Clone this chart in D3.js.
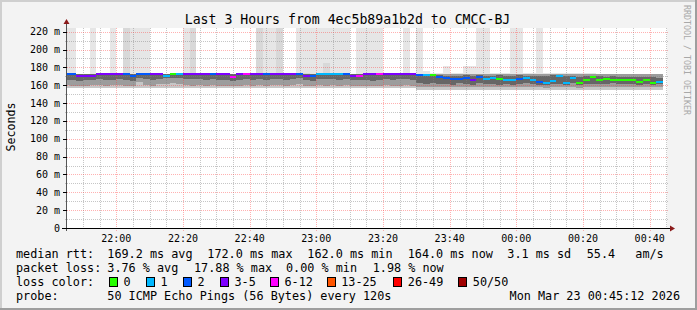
<!DOCTYPE html>
<html><head><meta charset="utf-8">
<script src="https://cdn.jsdelivr.net/npm/d3@7"></script>
<style>
html,body{margin:0;padding:0;background:#f3f3f3}
svg{display:block}
text{font-family:"DejaVu Sans Mono",monospace}
</style>
</head><body>
<svg id="chart" width="697" height="310"></svg>
<script>
// ---------------- data ----------------
const titleText = "Last 3 Hours from 4ec5b89a1b2d to CMCC-BJ";
const yTickValues = [0,20,40,60,80,100,120,140,160,180,200,220];
const xTickLabels = ["22:00","22:20","22:40","23:00","23:20","23:40","00:00","00:20","00:40"];
const lossLabels = ["0","1","2","3-5","6-12","13-25","26-49","50/50"];
const lossColors = ["#26ff00","#00b8ff","#0059ff","#7e00ff","#ff00ff","#ff5500","#ff0000","#a00000"];

// median rtt per 120 s step (ms), 21:44 .. 00:44
const median = [172,172,170,170,170,172,172,172,172,172,
 170,172,172,172,172,170,172,172,172,172,
 172,172,172,172,172,169.5,172,172,172,172,
 172,172,172,172,172,172,170,170,172,172,
 172,172,172,170,170,172,172,172,172,172,
 172,172,172,171,171,171,169,168.3,166.4,167.1,
 168.3,165.3,169,167.5,168,167.1,165.3,165.3,166.4,168.3,
 165.3,163.8,163,164.5,169.8,163,168.3,162,165.3,169,
 166,167.5,165.3,165.3,165.3,165.3,163.8,165.3,163,164];
// loss colour index per step
const lossIdx = [2,2,3,3,3,3,3,3,3,2,
 2,2,2,3,3,1,0,1,3,3,
 3,3,2,3,3,4,3,4,3,3,
 2,3,3,3,3,2,3,2,1,1,
 1,1,2,3,4,3,3,4,3,3,
 3,3,3,2,1,0,2,2,2,2,
 2,3,2,1,1,0,1,1,2,1,
 1,2,1,1,1,1,1,0,0,0,
 0,0,0,0,0,0,0,0,0,1];
// smoke: outer (lightest) band top
const smokeMax = [230,230,172.5,172.5,230,172.5,172.5,230,172.5,230,
 230,230,230,172.5,172.5,172.5,172.5,172.5,230,230,
 172.5,172.5,172.5,172.5,172.5,172.5,172.5,172.5,172.5,230,
 230,230,230,172.5,172.5,230,230,230,230,230,
 230,230,230,172.5,230,230,230,230,172.5,172.5,
 172.5,230,172.5,230,176,174,174,181,174,174,
 182,182,230,230,174,174,174,230,230,173.5,
 173.5,230,173.5,173.5,173.5,173.5,173.5,173.5,173.5,173.5,
 173,173,173,173,173,173,173,173,173,173];
// smoke: second light band top (0 = none)
const smokeUpper = [0,0,0,0,0,0,0,0,0,230,
 0,0,0,0,0,0,0,0,0,230,
 0,0,0,0,0,0,0,0,0,230,
 0,0,230,0,0,0,174,0,0,185,
 0,0,0,0,0,0,0,0,0,0,
 0,0,0,0,0,0,0,0,0,0,
 0,0,0,0,0,0,0,0,0,0,
 0,0,0,0,0,0,0,0,0,0,
 0,0,0,0,0,0,0,0,0,0];
// smoke: mid band top
const smokeHigh = [172,172,172,172,172,172,172,172,172,172,
 172,172,172,172,172,172,172,172,172,172,
 172,172,172,172,172,172,172,172,172,172,
 172,172,172,172,172,172,172,172,172,172,
 172,172,172,172,172,172,172,172,172,172,
 172,172,172,172.5,172.5,172.5,172.5,172.5,172.5,172.5,
 172.5,172.5,172.5,172.5,172.5,172.5,172.5,172.5,172.5,172.5,
 172.5,172.5,172.5,172.5,172.5,172.5,172.5,172.5,172.5,172.5,
 172,172,172,172,172,172,172,172,172,172];
// smoke: dark core top / bottom
const coreHigh = [172,172,172,172,172,172,172,172,172,172,
 172,172,172,172,172,172,172,172,172,172,
 172,172,172,172,172,172,172,172,172,172,
 172,172,172,172,172,172,172,172,172,172,
 172,172,172,172,172,172,172,172,172,172,
 172,172,172,171.5,171,171.5,171,170.5,170,170.5,
 171,170,171,170.5,170,171,170.5,170,171,170.5,
 170,170.5,170,171,170.5,170,170.5,169.5,170,170.5,
 170,169.5,170,169.5,169,169.5,169,169.5,169,168.5];
const coreLow = [165.5,165.5,165,165.5,166,166.5,166,165.5,167,166,
 165,168.5,167,166,167.5,168,168.5,168,167,166.5,
 167,166,167,166,165.5,165,166,167,166,167,
 166,167,167.5,166,167,168,166,165,167,166.5,
 167,166,167,166,165.5,166,165,166,167,166,
 166.5,167,166,162,161.5,162.5,161,161.5,160.5,162,
 161,160.5,162,161,161.5,160.5,161,160.5,161.5,162,
 161,160.5,160,161,161.5,160.5,162,160,161,161.5,
 161,161.5,162,161,161.5,161,160.5,161,160.5,161];
// smoke: mid band bottom and outer band bottom
const smokeLow = [160,159.5,159,159.5,160,160,159.5,160,160.5,159.5,
 159,163.5,160,159.5,161,161,162,161.5,160,159.5,
 160,159.5,160,159.5,159,159,159.5,160,159.5,160,
 159.5,160,160.5,159.5,160,161,159.5,159,160,159.5,
 160,159.5,160,159.5,159,159.5,159,159.5,160,159.5,
 159.5,160,159.5,158,158,158.5,157.5,158,157.5,158,
 157.5,157.5,158,157.5,158,157.5,158,157.5,158,158,
 157.5,157.5,157,157.5,158,157.5,158,157,157.5,158,
 157.5,158,158,157.5,158,157.5,157.5,158,157.5,158];
const smokeMin = [156.5,156.5,156.5,156.5,156.5,156.5,156.5,156.5,156.5,156.5,
 156.5,156.5,156.5,156.5,156.5,156.5,156.5,156.5,156.5,156.5,
 156.5,156.5,156.5,156.5,156.5,156.5,156.5,156.5,156.5,156.5,
 156.5,156.5,156.5,156.5,156.5,156.5,156.5,156.5,156.5,156.5,
 156.5,156.5,156.5,156.5,156.5,156.5,156.5,156.5,156.5,156.5,
 156.5,156.5,156.5,155,155,155,155,155,155,155,
 155,155,155,155,155,155,155,155,155,155,
 155,155,155,155,155,155,155,155,155,155,
 155,155,155,155,155,155,155,155,155,155];

const statRows = [
  [["median rtt:",16],["169.2 ms avg",107.3],["172.0 ms max",207.3],["162.0 ms min",307.3],["164.0 ms now",407.7],["3.1 ms sd",507.3],["55.4",586.7],["am/s",635.3]],
  [["packet loss:",16],["3.76 % avg",107.3],["17.88 % max",194],["0.00 % min",286],["1.98 % now",372.7]]
];
const probeText = "50 ICMP Echo Pings (56 Bytes) every 120s";
const dateText = "Mon Mar 23 00:45:12 2026";

// ---------------- drawing ----------------
const svg = d3.select("#chart");
const W = 697, H = 310;
const P = {l:67, r:667, t:28, b:228};

svg.append("rect").attr("width",W).attr("height",H).attr("fill","#f3f3f3");
svg.append("rect").attr("x",0).attr("y",0).attr("width",W).attr("height",2).attr("fill","#cfcfcf");
svg.append("rect").attr("x",0).attr("y",0).attr("width",2).attr("height",H).attr("fill","#cfcfcf");
svg.append("rect").attr("x",W-2).attr("y",0).attr("width",2).attr("height",H).attr("fill","#9e9e9e");
svg.append("rect").attr("x",0).attr("y",H-2).attr("width",W).attr("height",2).attr("fill","#9e9e9e");

const tStart = new Date(Date.UTC(2026,2,22,21,45,12));
const tEnd = new Date(Date.UTC(2026,2,23,0,45,12));
const x = d3.scaleUtc().domain([tStart,tEnd]).range([P.l,P.r]);
const y = d3.scaleLinear().domain([0,224.1]).range([P.b,P.t]);

svg.append("rect").attr("x",P.l).attr("y",P.t).attr("width",P.r-P.l).attr("height",P.b-P.t).attr("fill","#ffffff");

const defs = svg.append("defs");
defs.append("clipPath").attr("id","pc").append("rect")
  .attr("x",P.l).attr("y",P.t).attr("width",P.r-P.l).attr("height",P.b-P.t);

const colStart = Date.UTC(2026,2,22,21,44,0);
const step = 120000;
const cols = median.map((m,i)=>({
  i, t0:new Date(colStart+i*step), t1:new Date(colStart+(i+1)*step),
  med:m, loss:lossIdx[i], max:smokeMax[i], upper:smokeUpper[i],
  high:smokeHigh[i], cHigh:coreHigh[i], cLow:coreLow[i], low:smokeLow[i], min:smokeMin[i]
}));

const g = svg.append("g").attr("clip-path","url(#pc)");
function band(cls, lo, hi, color){
  g.selectAll("rect."+cls).data(cols.filter(d=>hi(d)>lo(d))).join("rect").attr("class",cls)
    .attr("x",d=>x(d.t0)).attr("width",d=>x(d.t1)-x(d.t0))
    .attr("y",d=>y(hi(d))).attr("height",d=>y(lo(d))-y(hi(d)))
    .attr("fill",color).attr("shape-rendering","crispEdges");
}
band("s1", d=>d.min, d=>d.max, "#e6e6e6");
band("s2", d=>d.min+0.5, d=>d.upper, "#d8d8d8");
band("s0", d=>d.min, d=>d.low, "#c6c6c6");
band("s3", d=>d.low, d=>d.high, "#9c9c9c");
band("s4", d=>d.cLow, d=>d.cHigh, "#666666");

// grid
const gridG = svg.append("g");
const minorX = d3.utcMinute.every(5).range(new Date(tStart.getTime()+1), tEnd);
const majorX = d3.utcMinute.every(20).range(new Date(tStart.getTime()+1), tEnd);
const snap = v => Math.round(v)+0.5;
gridG.selectAll("line.vx").data(minorX.filter(t=>t.getUTCMinutes()%20!==0)).join("line")
  .attr("x1",d=>snap(x(d))).attr("x2",d=>snap(x(d))).attr("y1",P.t).attr("y2",P.b+2)
  .attr("stroke","rgba(128,128,128,0.45)").attr("stroke-dasharray","1,1");
gridG.selectAll("line.vX").data(majorX).join("line")
  .attr("x1",d=>snap(x(d))).attr("x2",d=>snap(x(d))).attr("y1",P.t).attr("y2",P.b+3)
  .attr("stroke","rgba(255,60,60,0.4)").attr("stroke-dasharray","1,1");
const minorY = d3.range(10,224,10).filter(v=>v%20!==0);
gridG.selectAll("line.hy").data(minorY).join("line")
  .attr("x1",P.l-2).attr("x2",P.r+2).attr("y1",d=>snap(y(d))).attr("y2",d=>snap(y(d)))
  .attr("stroke","rgba(128,128,128,0.45)").attr("stroke-dasharray","1,1");
gridG.selectAll("line.hY").data(yTickValues.filter(v=>v>0)).join("line")
  .attr("x1",P.l).attr("x2",P.r+2).attr("y1",d=>snap(y(d))).attr("y2",d=>snap(y(d)))
  .attr("stroke","rgba(255,60,60,0.4)").attr("stroke-dasharray","1,1");

// median
svg.append("g").attr("clip-path","url(#pc)").selectAll("rect").data(cols).join("rect")
  .attr("x",d=>x(d.t0)).attr("width",d=>x(d.t1)-x(d.t0))
  .attr("y",d=>Math.round(y(d.med))-1).attr("height",2)
  .attr("fill",d=>lossColors[d.loss]).attr("shape-rendering","crispEdges");

// axes
svg.append("line").attr("x1",P.l-0.5).attr("x2",P.l-0.5).attr("y1",P.b+3).attr("y2",P.t-5)
  .attr("stroke","#555");
svg.append("line").attr("x1",P.l-5).attr("x2",P.r+4).attr("y1",P.b+0.5).attr("y2",P.b+0.5)
  .attr("stroke","#000");
svg.append("path").attr("d",`M${P.l-3.5},${P.t-4}L${P.l+2.5},${P.t-4}L${P.l-0.5},${P.t-9}Z`).attr("fill","#8b1a1a");
svg.append("path").attr("d",`M${P.r+3},${P.b-2.5}L${P.r+3},${P.b+3.5}L${P.r+8},${P.b+0.5}Z`).attr("fill","#8b1a1a");

const yAxis = svg.append("g");
yAxis.selectAll("line").data(yTickValues).join("line")
  .attr("x1",P.l-4).attr("x2",P.l).attr("y1",d=>snap(y(d))).attr("y2",d=>snap(y(d)))
  .attr("stroke","#000");
yAxis.selectAll("text").data(yTickValues).join("text")
  .attr("x",60).attr("y",d=>y(d)).attr("dy","0.35em").attr("text-anchor","end")
  .attr("font-size","10px").attr("fill","#000")
  .text(d=>d===0?"0":d+" m");

const xAxis = svg.append("g");
xAxis.selectAll("text").data(majorX).join("text")
  .attr("x",d=>x(d)).attr("y",242).attr("text-anchor","middle")
  .attr("font-size","10px").attr("fill","#000")
  .text((d,i)=>xTickLabels[i]);

svg.append("text").attr("x",347.5).attr("y",23.5).attr("text-anchor","middle")
  .attr("font-size","13.2px").attr("fill","#000").text(titleText);
svg.append("text").attr("transform","translate(14.5,127) rotate(-90)").attr("text-anchor","middle")
  .attr("font-size","11.6px").attr("fill","#000").text("Seconds");
svg.append("text").attr("transform","translate(684,60) rotate(90)").attr("text-anchor","middle")
  .attr("font-size","8.3px").attr("fill","#a8a8a8").text("RRDTOOL / TOBI OETIKER");

const leg = svg.append("g").attr("font-size","11.8px").attr("fill","#000");
statRows.forEach((row,ri)=>{
  row.forEach(([t,xx])=>{
    leg.append("text").attr("x",xx).attr("y",258+ri*14).text(t);
  });
});
leg.append("text").attr("x",16).attr("y",286).text("loss color:");
const boxX = [109,146,183,220,270,326.7,393.3,458.3];
lossLabels.forEach((l,i)=>{
  leg.append("rect").attr("x",Math.round(boxX[i])+0.5).attr("y",277.5).attr("width",8).attr("height",9)
    .attr("fill",lossColors[i]).attr("stroke","#000");
  leg.append("text").attr("x",boxX[i]+14.5).attr("y",286).text(l);
});
leg.append("text").attr("x",16).attr("y",300).text("probe:");
leg.append("text").attr("x",107.3).attr("y",300).text(probeText);
leg.append("text").attr("x",680).attr("y",300).attr("text-anchor","end").text(dateText);
</script>
</body></html>
